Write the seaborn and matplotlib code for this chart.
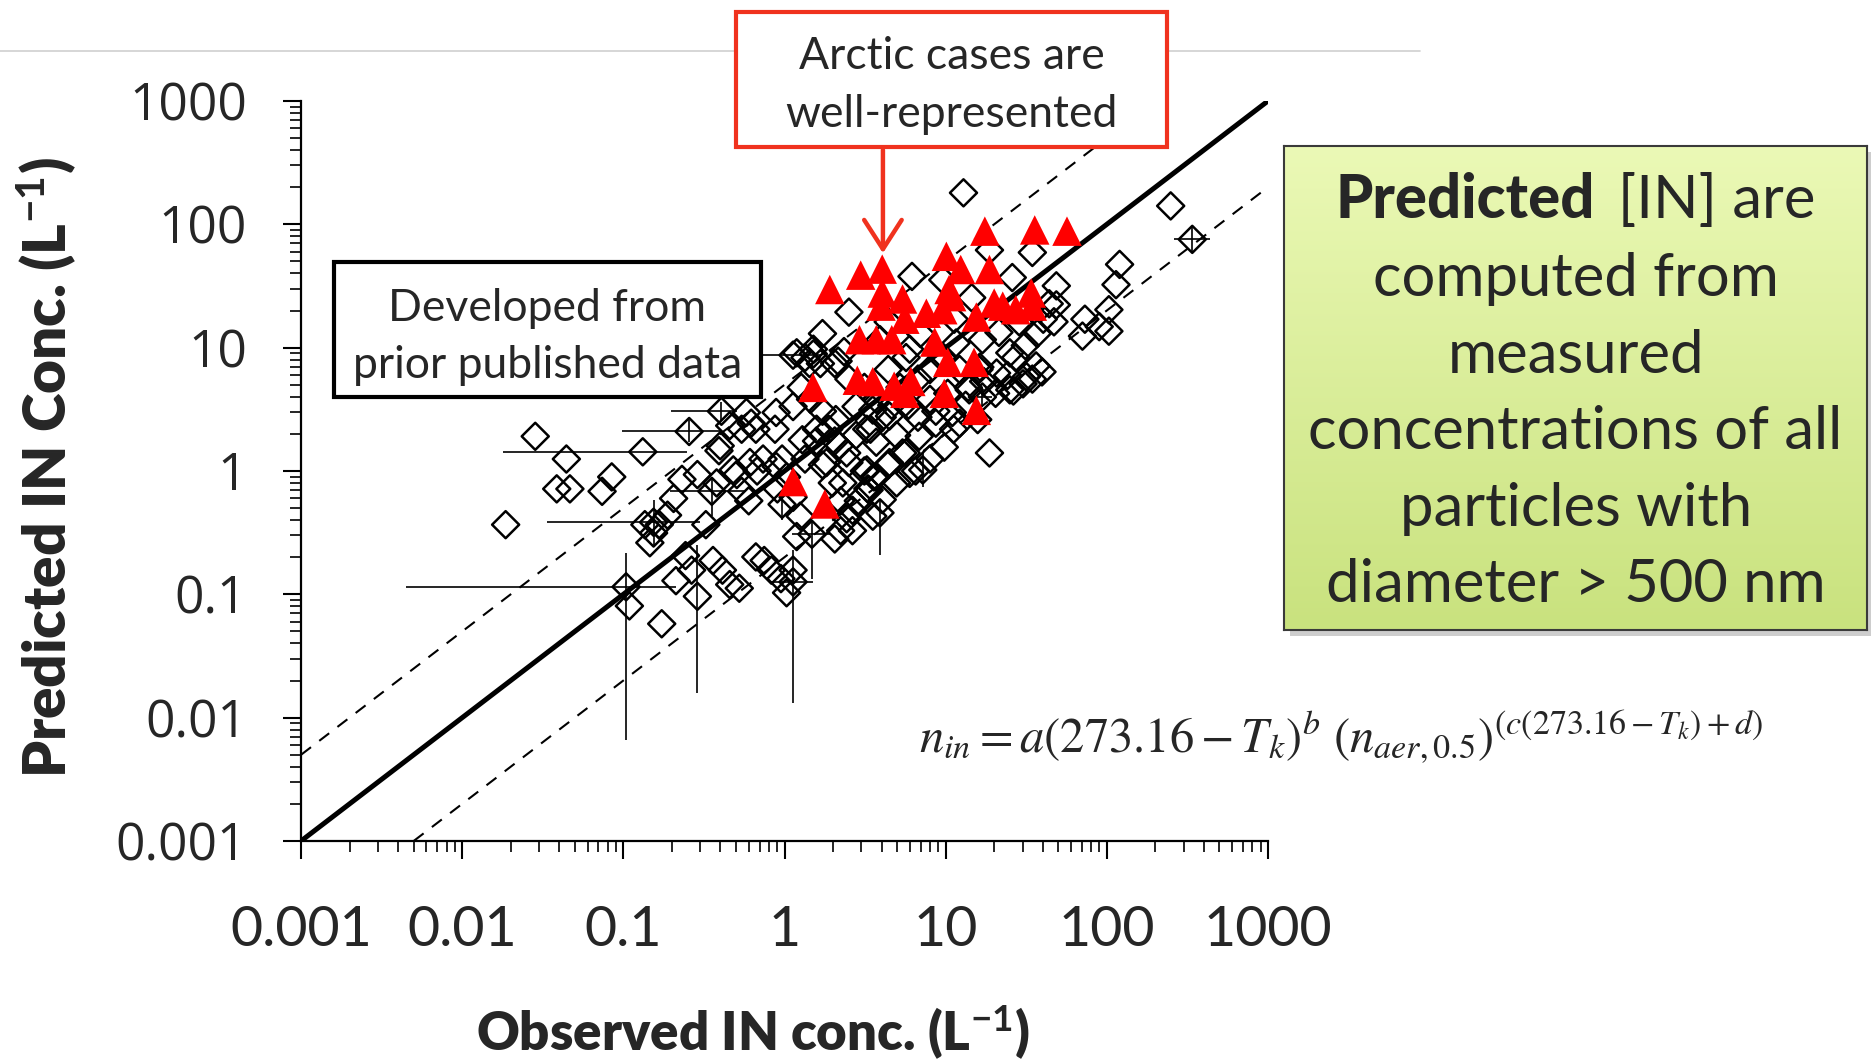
import numpy as np
import matplotlib
matplotlib.use("Agg")
import matplotlib.pyplot as plt
import seaborn as sns
from matplotlib.patches import Rectangle, FancyArrowPatch
from matplotlib.lines import Line2D
from matplotlib.colors import LinearSegmentedColormap
from matplotlib.ticker import NullFormatter

# observed vs predicted IN (L-1), open diamonds
diamond_obs = [0.0186, 0.0284, 0.0386, 0.0443, 0.0466, 0.0738, 0.0847, 0.109, 0.173, 0.136,
               0.154, 0.167, 0.146, 0.188, 0.205, 0.231, 0.288, 0.325, 0.360, 0.412,
               0.457, 0.524, 0.243, 0.265, 0.212, 0.457, 0.542, 0.621, 0.392, 0.506,
               0.542, 0.600, 0.676, 0.736, 0.664, 0.748, 0.829, 0.950, 1.03, 1.19,
               0.903, 1.03, 0.966, 0.873, 1.34, 1.51, 1.67, 1.27, 1.45, 1.72,
               1.88, 1.58, 1.34, 1.72, 1.98, 2.23, 2.43, 2.64, 2.23, 2.05,
               2.87, 3.29, 3.59, 3.13, 2.43, 2.05, 2.78, 3.41, 4.04, 4.63,
               3.71, 3.13, 2.51, 2.05, 2.34, 4.40, 5.21, 5.88, 6.73, 4.96,
               5.68, 4.40, 6.51, 7.99, 9.80, 11.2, 8.69, 10.3, 13.3, 15.8,
               13.8, 17.2, 20.4, 24.2, 27.2, 31.2, 37.0, 40.3, 34.0, 28.6,
               43.9, 18.7, 16.3, 12.2, 9.47, 7.99, 6.73, 5.68, 6.18, 12.9,
               18.7, 34.5, 25.9, 48.6, 48.6, 47.0, 249, 120, 114, 103,
               73.1, 70.6, 103, 89.7, 39.6, 34.5, 30.2, 26.3, 25.0, 6.85,
               11.0, 1.19, 1.51, 1.43, 2.15, 0.580, 0.664, 0.887, 0.399, 0.610,
               0.481, 0.887, 0.379, 1.13, 1.29, 1.58, 2.08, 2.78, 3.24, 2.19,
               1.82, 2.51, 3.24, 2.30, 3.35, 2.64, 3.53, 1.25, 3.91, 5.98,
               11.6, 31.7, 36.4, 20.7, 8.69, 5.40, 4.48, 3.71, 4.04, 4.96,
               5.98, 3.71, 3.53, 4.48, 7.99, 14.0, 16.1, 9.6, 16.9, 21.4,
               25.0, 12.2, 1.13, 2.51, 4.40, 6.97, 1.72, 11.3, 14.5]
diamond_pred = [0.367, 1.91, 0.716, 1.25, 0.716, 0.684, 0.895, 0.0805, 0.0577, 0.367,
                0.314, 0.367, 0.262, 0.438, 0.599, 0.855, 0.935, 0.367, 0.188, 0.157,
                0.120, 0.112, 0.206, 0.157, 0.129, 2.33, 2.18, 2.44, 1.46, 0.935,
                0.684, 0.573, 1.00, 1.25, 0.201, 0.188, 0.157, 0.134, 0.103, 0.294,
                0.716, 0.895, 1.25, 2.18, 8.31, 8.89, 7.43, 4.76, 3.81, 3.05,
                2.18, 1.75, 1.25, 1.12, 0.80, 0.573, 0.41, 0.328, 0.328, 0.281,
                0.573, 0.716, 0.895, 1.00, 1.40, 1.75, 1.95, 2.18, 2.73, 3.41,
                3.81, 4.76, 5.56, 7.43, 9.29, 6.65, 4.76, 3.41, 2.73, 1.95,
                1.40, 1.12, 1.00, 1.25, 1.56, 2.18, 3.05, 4.26, 3.41, 2.61,
                4.76, 5.32, 4.26, 5.95, 8.31, 10.4, 13.0, 17.0, 21.2, 16.2,
                22.7, 1.40, 6.95, 6.65, 8.31, 6.65, 5.56, 8.31, 37.8, 180,
                61.8, 59.1, 37.0, 31.7, 22.2, 16.2, 141, 47.3, 32.4, 20.3,
                17.0, 12.4, 13.6, 14.8, 6.36, 5.56, 5.09, 4.45, 4.55, 1.91,
                2.98, 9.08, 9.71, 7.43, 7.78, 2.98, 2.18, 2.98, 1.60, 1.17,
                1.02, 1.09, 0.80, 0.612, 1.79, 2.18, 2.61, 3.33, 2.18, 1.60,
                1.17, 1.17, 1.02, 0.80, 0.70, 0.48, 0.43, 0.43, 11.6, 9.71,
                10.9, 5.82, 7.11, 6.22, 2.44, 1.40, 1.17, 0.895, 0.586, 0.80,
                0.956, 1.71, 3.12, 2.79, 3.81, 4.55, 6.65, 35.4, 11.6, 13.3,
                9.08, 2.44, 3.33, 19.4, 16.2, 13.0, 13.0, 17.0, 25.4]

# diamonds that carry error bars: centre, then low/high in x and y
err_obs = [0.104, 0.132, 0.154, 0.256, 0.288, 1.13, 0.354, 0.406, 1.13, 1.48, 3.91, 7.21, 1.13, 339, 16.9, 0.966]
err_pred = [0.115, 1.43, 0.384, 2.09, 0.0963, 0.157, 0.684, 3.05, 0.126, 0.307, 0.458, 1.02, 8.69, 75.5, 3.98, 0.536]
err_xlo = [0.00445, 0.018, 0.0337, 0.0986, 0.288, 1.13, 0.195, 0.198, 0.80, 1.11, 3.91, 7.21, 0.621, 262, 14.5, 0.966]
err_xhi = [0.212, 0.247, 0.298, 0.412, 0.288, 1.13, 0.58, 0.51, 1.5, 1.91, 3.91, 7.21, 1.72, 437, 19.5, 0.966]
err_ylo = [0.00664, 1.43, 0.245, 1.71, 0.0158, 0.0132, 0.43, 2.6, 0.126, 0.132, 0.21, 0.748, 8.69, 60, 3.3, 0.40]
err_yhi = [0.215, 1.43, 0.586, 2.61, 0.251, 0.23, 0.895, 3.6, 0.126, 0.40, 0.573, 1.40, 8.69, 95, 4.8, 0.70]

# Arctic cases, red triangles
arctic_obs = [1.91, 2.97, 4.04, 4.04, 3.97, 5.40, 2.92, 3.71, 4.63, 5.58,
              7.59, 10.1, 12.4, 10.9, 9.6, 8.55, 10.3, 15.0, 9.8, 15.5,
              1.50, 2.83, 3.53, 4.79, 5.58, 6.08, 17.5, 35.7, 56.6, 18.7,
              15.5, 20.0, 22.6, 27.2, 34.0, 34.5, 1.13, 1.78, 10.5]
arctic_pred = [29.6, 38.7, 43.3, 27.7, 21.7, 24.8, 11.6, 11.6, 11.6, 17.0,
               19.0, 55.0, 43.0, 25.9, 20.3, 11.1, 7.6, 7.6, 4.26, 3.1,
               4.76, 5.44, 5.30, 4.87, 4.26, 5.32, 88, 90, 88, 43,
               17.7, 23.0, 21.7, 20.3, 27.7, 21.7, 0.82, 0.54, 29.6]

line_ends = [0.001, 1000]
factor = 5
tick_vals = [0.001, 0.01, 0.1, 1, 10, 100, 1000]
tick_labels = ["0.001", "0.01", "0.1", "1", "10", "100", "1000"]

sns.set_theme(style="ticks")
plt.rcParams['font.family'] = ["Lato", "DejaVu Sans"]
plt.rcParams['mathtext.fontset'] = "custom"
plt.rcParams['mathtext.rm'] = "Lato"
plt.rcParams['mathtext.bf'] = "Lato:bold"
plt.rcParams['mathtext.it'] = "Lato:italic"

fig = plt.figure(figsize=(18.71, 10.64), dpi=100)
ax = fig.add_axes([0.1609, 0.2096, 0.5168, 0.6955])
ax.set_xscale("log")
ax.set_yscale("log")

# 1:1 and factor-of-5 lines
sns.lineplot(x=line_ends, y=line_ends, color="black", lw=3.6, ax=ax, zorder=1)
sns.lineplot(x=[line_ends[0], line_ends[1] / factor], y=[line_ends[0] * factor, line_ends[1]],
             color="black", lw=1.5, ls=(0, (6, 5)), ax=ax, zorder=1)
sns.lineplot(x=[line_ends[0] * factor, line_ends[1]], y=[line_ends[0], line_ends[1] / factor],
             color="black", lw=1.5, ls=(0, (6, 5)), ax=ax, zorder=1)

obs = np.array(err_obs)
pred = np.array(err_pred)
ax.errorbar(obs, pred,
            xerr=[obs - np.array(err_xlo), np.array(err_xhi) - obs],
            yerr=[pred - np.array(err_ylo), np.array(err_yhi) - pred],
            fmt="none", ecolor="black", elinewidth=1.2, capsize=0, zorder=2)

sns.scatterplot(x=diamond_obs + err_obs, y=diamond_pred + err_pred, marker="D", s=190,
                color="black", facecolor="none", edgecolor="black", linewidth=1.8,
                ax=ax, zorder=3)
sns.scatterplot(x=arctic_obs, y=arctic_pred, marker="^", s=450, color="#ff0000",
                edgecolor="none", linewidth=0, ax=ax, zorder=4)

ax.set_xlim(0.001, 1000)
ax.set_ylim(0.001, 1000)
ax.set_xticks(tick_vals, labels=tick_labels, fontsize=40, family="Lato")
ax.set_yticks(tick_vals, labels=tick_labels, fontsize=37, family="Open Sans")
ax.xaxis.set_minor_formatter(NullFormatter())
ax.yaxis.set_minor_formatter(NullFormatter())
ax.tick_params(which="major", direction="out", length=13, width=1.5, color="black")
ax.tick_params(which="minor", direction="out", length=8, width=1.2, color="black")
ax.tick_params(axis="x", which="major", pad=33)
ax.tick_params(axis="y", which="major", pad=26)
for s in ["top", "right"]:
    ax.spines[s].set_visible(False)
for s in ["left", "bottom"]:
    ax.spines[s].set_linewidth(1.6)
    ax.spines[s].set_color("black")

ax.set_xlabel(r"Observed IN conc. (L$^{\mathbf{-1}}$)", fontsize=38, fontweight="heavy",
              family="Lato", math_fontfamily="custom")
ax.set_ylabel(r"Predicted IN Conc. (L$^{\mathbf{-1}}$)", fontsize=42, fontweight="heavy",
              family="Lato", math_fontfamily="custom")
ax.xaxis.set_label_coords(0.467, -0.218)
ax.yaxis.set_label_coords(-0.230, 0.504)

# thin grey rule at the top of the slide
fig.add_artist(Line2D([0, 0.759], [0.952, 0.952], color="#d0d0d0", lw=1.2, zorder=0.5))

# "Developed from" box
fig.add_artist(Rectangle((0.1785, 0.6269), 0.2282, 0.1269, transform=fig.transFigure,
                         facecolor="white", edgecolor="black", lw=3, zorder=2))
fig.text(0.2926, 0.7105, "Developed from", fontsize=32, family="Lato", ha="center", va="center", zorder=3)
fig.text(0.2926, 0.6569, "prior published data", fontsize=32, family="Lato", ha="center", va="center", zorder=3)

# Arctic box with arrow
red = "#f0321e"
fig.add_artist(Rectangle((0.3934, 0.8618), 0.2304, 0.1269, transform=fig.transFigure,
                         facecolor="white", edgecolor=red, lw=3, zorder=2))
fig.text(0.5086, 0.9473, "Arctic cases are", fontsize=32, family="Lato", ha="center", va="center", zorder=3)
fig.text(0.5086, 0.8928, "well-represented", fontsize=32, family="Lato", ha="center", va="center", zorder=3)
fig.add_artist(FancyArrowPatch((0.4719, 0.8618), (0.4719, 0.7594), transform=fig.transFigure,
                               arrowstyle="->,head_length=0.7,head_width=0.45", mutation_scale=30,
                               color=red, lw=3.2, zorder=2))

# green note box with gradient
gx0, gy0, gw, gh = 0.6863, 0.4079, 0.3116, 0.4549
fig.add_artist(Rectangle((gx0 + 0.003, gy0 - 0.006), gw, gh, transform=fig.transFigure,
                         facecolor="#b8b8b8", edgecolor="none", zorder=0.6, alpha=0.7))
gax = fig.add_axes([gx0, gy0, gw, gh], zorder=1)
grad = np.linspace(0, 1, 256).reshape(-1, 1)
gax.imshow(grad, aspect="auto", cmap=LinearSegmentedColormap.from_list("g", ["#ebf9b6", "#c9e27e"]),
           extent=[0, 1, 0, 1], origin="upper")
gax.set_xticks([])
gax.set_yticks([])
for s in gax.spines.values():
    s.set_edgecolor("#3a3a3a")
    s.set_linewidth(1.5)

note_lines = ["computed from", "measured", "concentrations of all", "particles with", "diameter > 500 nm"]
note_y = [0.738, 0.665, 0.594, 0.522, 0.450]
note_size = 43
cx = gx0 + gw / 2
t1 = fig.text(cx, 0.812, "Predicted", fontsize=note_size, fontweight="black", family="Lato",
              ha="left", va="center", zorder=3)
t2 = fig.text(cx, 0.812, "[IN] are", fontsize=note_size, family="Lato", ha="left", va="center", zorder=3)
for txt, yy in zip(note_lines, note_y):
    fig.text(cx, yy, txt, fontsize=note_size, family="Lato", ha="center", va="center", zorder=3)

# centre the mixed-weight first line
fig.canvas.draw()
r = fig.canvas.get_renderer()
w1 = t1.get_window_extent(r).width / fig.bbox.width
w2 = t2.get_window_extent(r).width / fig.bbox.width
gap = 0.012
left = cx - (w1 + gap + w2) / 2
t1.set_x(left)
t2.set_x(left + w1 + gap)

formula = r"$n_{in} = a\left(273.16 - T_k\right)^{b}\ \left(n_{aer,0.5}\right)^{(c(273.16 - T_k)+d)}$"
fig.text(0.7165, 0.307, formula, fontsize=35, math_fontfamily="stix", ha="center", va="center")

fig.savefig("out.png", dpi=100)
